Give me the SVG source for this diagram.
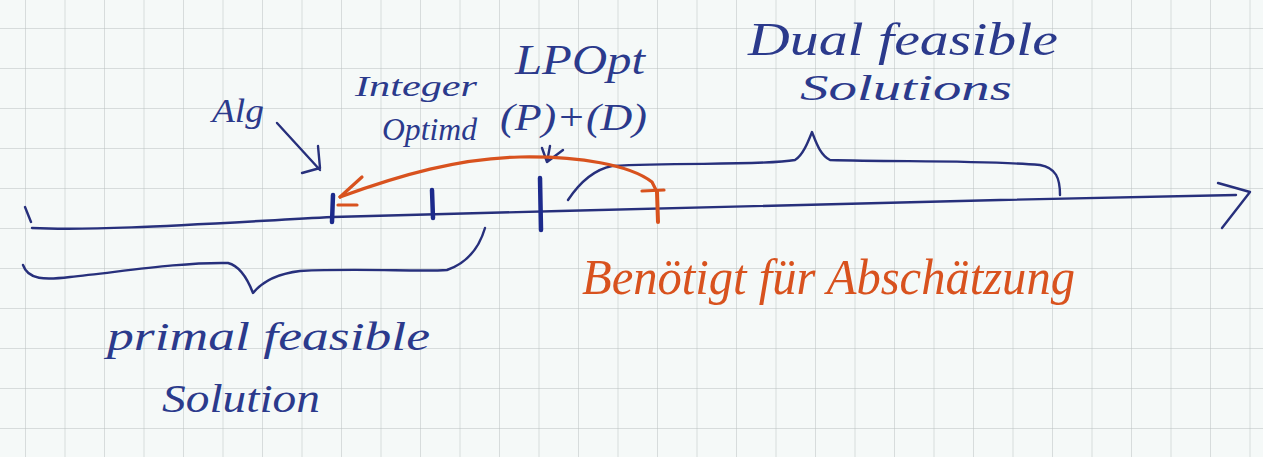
<svg xmlns="http://www.w3.org/2000/svg" width="1263" height="457" viewBox="0 0 1263 457">
<style>
.ink{fill:none;stroke:#27307c;stroke-width:2.4;stroke-linecap:round;stroke-linejoin:round}
.tick{fill:none;stroke:#1c2a8c;stroke-width:4.5;stroke-linecap:round}
.red{fill:none;stroke:#d8521e;stroke-width:3.2;stroke-linecap:round;stroke-linejoin:round}
.bt{font-family:"Liberation Serif",serif;font-style:italic;fill:#2b3a8c}
.rt{font-family:"Liberation Serif",serif;font-style:italic;fill:#d8521e}
</style>
<defs>
<pattern id="grid" patternUnits="userSpaceOnUse" x="25" y="28" width="39.5" height="40">
<path d="M0,0 V40 M0,0 H39.5" fill="none" stroke="#b9bfbf" stroke-width="1"/>
</pattern>
</defs>
<rect width="1263" height="457" fill="#f5f9f8"/>
<rect width="1263" height="457" fill="url(#grid)"/>

<g id="connectors">
<!-- main axis -->
<path class="ink" d="M25,207 L31,222 M32,228 C100,231 200,224 333,217 C420,214 500,212 560,211 C700,208 850,205 1000,200 C1100,198 1180,196 1236,195"/>
<path class="ink" d="M1218,183 L1250,192 L1222,228"/>
<!-- Alg arrow -->
<path class="ink" d="M277,123 L320,170 M302,173 L320,168 L318,146"/>
<!-- (P)+(D) arrow -->
<path class="ink" d="M550,146 L547,162 M542,148 L547,162 L563,150"/>
<!-- primal brace -->
<path class="ink" d="M23,265 C28,280 45,280 70,277 C120,272 180,262 228,263 C240,266 248,280 253,293 C262,282 275,274 300,271 C360,268 420,272 447,270 C470,262 480,245 485,228"/>
<!-- dual brace -->
<path class="ink" d="M568,200 C578,185 592,170 612,166 C680,162 760,166 795,160 C803,155 808,142 812,132 C816,142 820,155 830,160 C900,162 980,160 1040,165 C1056,168 1060,178 1060,195"/>
<!-- orange arc with arrows -->
<path class="red" d="M340,197 C400,175 460,158 520,157 C580,156 630,165 652,182 L657,192"/>
<path class="red" d="M362,177 L340,197 M338,205 L357,205"/>
<path class="red" d="M642,191 L664,190"/>
</g>

<g id="tick-alg"><path class="tick" d="M333,195 L332,222"/></g>
<g id="tick-integer"><path class="tick" d="M432,190 L433,218"/></g>
<g id="tick-lpopt"><path class="tick" d="M540,178 L541,230"/></g>
<g id="tick-bound"><path class="red" style="stroke-width:4" d="M657,192 L658,222"/></g>

<g id="label-alg"><text class="bt" x="212" y="122" font-size="34" textLength="52" lengthAdjust="spacingAndGlyphs">Alg</text></g>
<g id="label-integer"><text class="bt" x="355" y="96" font-size="30" textLength="122" lengthAdjust="spacingAndGlyphs">Integer</text>
<text class="bt" x="382" y="140" font-size="32" textLength="95" lengthAdjust="spacingAndGlyphs">Optimd</text></g>
<g id="label-lpopt"><text class="bt" x="515" y="74" font-size="42" textLength="130" lengthAdjust="spacingAndGlyphs">LPOpt</text>
<text class="bt" x="500" y="130" font-size="38" textLength="147" lengthAdjust="spacingAndGlyphs">(P)+(D)</text></g>
<g id="label-dual"><text class="bt" x="748" y="55" font-size="46" textLength="310" lengthAdjust="spacingAndGlyphs">Dual feasible</text>
<text class="bt" x="800" y="100" font-size="36" textLength="212" lengthAdjust="spacingAndGlyphs">Solutions</text></g>
<g id="label-primal"><text class="bt" x="107" y="350" font-size="40" textLength="323" lengthAdjust="spacingAndGlyphs">primal feasible</text>
<text class="bt" x="162" y="412" font-size="40" textLength="158" lengthAdjust="spacingAndGlyphs">Solution</text></g>
<g id="label-bound"><text class="rt" x="582" y="294" font-size="50" textLength="493" lengthAdjust="spacingAndGlyphs">Benötigt für Abschätzung</text></g>
</svg>
